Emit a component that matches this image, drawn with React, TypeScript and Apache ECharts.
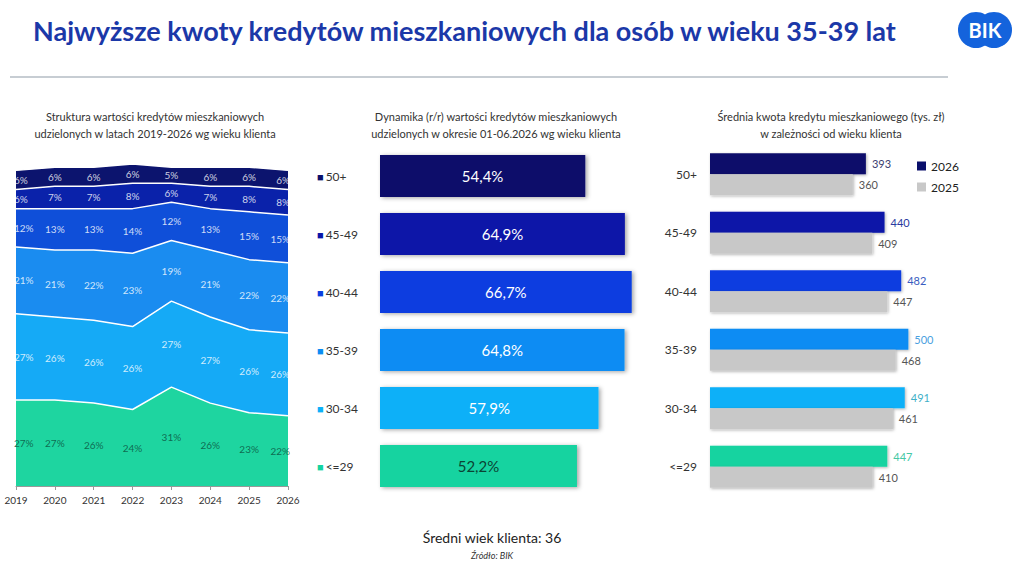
import React, { useEffect, useRef } from "react";
import * as echarts from "echarts";

const years = ["2019", "2020", "2021", "2022", "2023", "2024", "2025", "2026"];
const groups = ["<=29", "30-34", "35-39", "40-44", "45-49", "50+"];
const share29 = [27, 27, 26, 24, 31, 26, 23, 22];
const share3034 = [27, 26, 26, 26, 27, 27, 26, 26];
const share3539 = [21, 21, 22, 23, 19, 21, 22, 22];
const share4044 = [12, 13, 13, 14, 12, 13, 15, 15];
const share4549 = [6, 7, 7, 8, 6, 7, 8, 8];
const share50 = [6, 6, 6, 6, 5, 6, 6, 6];
const shares = [share29, share3034, share3539, share4044, share4549, share50];

const barCats = ["50+", "45-49", "40-44", "35-39", "30-34", "<=29"];
const dynamics = [54.4, 64.9, 66.7, 64.8, 57.9, 52.2];
const avg2026 = [393, 440, 482, 500, 491, 447];
const avg2025 = [360, 409, 447, 468, 461, 410];

// colors indexed like groups (<=29 .. 50+)
const groupColors = ["#14d3a0", "#0cb0f8", "#0b8cf3", "#0a3ee0", "#0815a8", "#0a0f6b"];
const areaColors = ["#1ed5a0", "#15aaf6", "#1a8cf0", "#0f4fd9", "#0a22aa", "#0c146e"];
// label colors indexed like barCats (50+ .. <=29)
const labelColors2026 = ["#3b4070", "#2a3aa0", "#3a5cc0", "#4a9fe0", "#3fb0c8", "#45c8a5"];

const FONT = "Lato, 'Open Sans', sans-serif";

function fmtPl(v: number) {
  return v.toFixed(1).replace(".", ",") + "%";
}

export default function App() {
  const ref = useRef<HTMLDivElement>(null);
  useEffect(() => {
    if (!ref.current) return;
    const chart = echarts.init(ref.current, undefined, { renderer: "svg" });

    const colorFor = (cat: string) => groupColors[groups.indexOf(cat)];

    const areaSeries: any[] = shares.map((arr, gi) => ({
      type: "line",
      name: groups[gi],
      xAxisIndex: 0,
      yAxisIndex: 0,
      stack: "share",
      data: arr,
      symbol: "none",
      lineStyle: { color: "#ffffff", width: 1.5 },
      areaStyle: { color: areaColors[gi], opacity: 1 },
      z: 2,
    }));

    const labelData: any[] = [];
    years.forEach((_, yi) => {
      let cum = 0;
      shares.forEach((arr, gi) => {
        const v = arr[yi];
        const edge =
          yi === 0
            ? { align: "left", offset: [-2, 0] }
            : yi === years.length - 1
            ? { align: "right", offset: [2, 0] }
            : {};
        labelData.push({
          value: [yi, cum + v / 2, v],
          label: { color: gi === 0 ? "#0b4f3c" : "#ffffff", ...edge },
        });
        cum += v;
      });
    });

    const richSq: any = {};
    barCats.forEach((c, i) => {
      richSq["s" + i] = { color: colorFor(c), fontSize: 11, padding: [0, 2, 0, 0] };
    });
    richSq.t = { color: "#333333", fontSize: 12, fontFamily: FONT };

    const option: any = {
      animation: false,
      backgroundColor: "#ffffff",
      textStyle: { fontFamily: FONT },
      title: [
        {
          text: "Najwyższe kwoty kredytów mieszkaniowych dla osób w wieku 35-39 lat",
          left: 28,
          top: 12,
          textStyle: { fontFamily: FONT, fontSize: 27, fontWeight: "bold", color: "#1b38a8" },
        },
        {
          text: "Struktura wartości kredytów mieszkaniowych\nudzielonych w latach 2019-2026 wg wieku klienta",
          left: 150,
          top: 103,
          textAlign: "center",
          textStyle: { fontFamily: FONT, fontSize: 11, fontWeight: "normal", color: "#333", lineHeight: 17 },
        },
        {
          text: "Dynamika (r/r) wartości kredytów mieszkaniowych\nudzielonych w okresie 01-06.2026 wg wieku klienta",
          left: 491,
          top: 103,
          textAlign: "center",
          textStyle: { fontFamily: FONT, fontSize: 11, fontWeight: "normal", color: "#333", lineHeight: 17 },
        },
        {
          text: "Średnia kwota kredytu mieszkaniowego (tys. zł)\nw zależności od wieku klienta",
          left: 826,
          top: 103,
          textAlign: "center",
          textStyle: { fontFamily: FONT, fontSize: 11, fontWeight: "normal", color: "#333", lineHeight: 17 },
        },
        {
          text: "Średni wiek klienta: 36",
          left: 487,
          top: 525,
          textAlign: "center",
          textStyle: { fontFamily: FONT, fontSize: 14, fontWeight: "normal", color: "#222" },
        },
        {
          text: "Źródło: BIK",
          left: 487,
          top: 546,
          textAlign: "center",
          textStyle: { fontFamily: FONT, fontSize: 9, fontStyle: "italic", fontWeight: "normal", color: "#333" },
        },
      ],
      graphic: [
        { type: "line", shape: { x1: 10, y1: 77, x2: 948, y2: 77 }, style: { stroke: "#b4bcc4", lineWidth: 1.5 } },
        { type: "circle", shape: { cx: 976, cy: 30, r: 18 }, style: { fill: "#1463dc" } },
        { type: "circle", shape: { cx: 994, cy: 30, r: 18 }, style: { fill: "#1463dc" } },
        {
          type: "text",
          x: 985,
          y: 30,
          style: {
            text: "BIK",
            fill: "#ffffff",
            font: "bold 20px " + FONT,
            textAlign: "center",
            textVerticalAlign: "middle",
          },
        },
      ],
      legend: {
        data: ["2026", "2025"],
        orient: "vertical",
        left: 912,
        top: 155,
        icon: "rect",
        itemWidth: 9,
        itemHeight: 9,
        itemGap: 9,
        textStyle: { fontFamily: FONT, fontSize: 12, color: "#222" },
      },
      grid: [
        { left: 16, right: 736, top: 164, bottom: 78 },
        { left: 380, right: 361, top: 147, bottom: 69 },
        { left: 710, right: 76, top: 145, bottom: 68 },
      ],
      xAxis: [
        {
          gridIndex: 0,
          type: "category",
          data: years,
          boundaryGap: false,
          axisLine: { lineStyle: { color: "#999" } },
          axisTick: { show: true, length: 4, lineStyle: { color: "#999" } },
          axisLabel: { fontFamily: FONT, fontSize: 10, color: "#333", margin: 9 },
          z: 5,
        },
        { gridIndex: 1, type: "value", min: 0, max: 75, show: false },
        { gridIndex: 2, type: "value", min: 0, max: 600, show: false },
      ],
      yAxis: [
        { gridIndex: 0, type: "value", min: 0, max: (v: any) => v.max, show: false },
        {
          gridIndex: 1,
          type: "category",
          data: barCats,
          inverse: true,
          axisLine: { show: false },
          axisTick: { show: false },
          axisLabel: {
            align: "left",
            margin: 63,
            formatter: (val: string, idx: number) => `{s${idx}|■}{t|${val}}`,
            rich: richSq,
          },
        },
        {
          gridIndex: 2,
          type: "category",
          data: barCats,
          inverse: true,
          axisLine: { show: false },
          axisTick: { show: false },
          axisLabel: { fontFamily: FONT, fontSize: 12, color: "#333", margin: 13 },
        },
      ],
      series: [
        ...areaSeries,
        {
          type: "scatter",
          xAxisIndex: 0,
          yAxisIndex: 0,
          data: labelData,
          symbolSize: 0,
          silent: true,
          clip: false,
          z: 6,
          label: {
            show: true,
            position: "inside",
            fontFamily: FONT,
            fontSize: 10,
            formatter: (p: any) => p.value[2] + "%",
          },
        },
        {
          type: "bar",
          name: "dyn",
          xAxisIndex: 1,
          yAxisIndex: 1,
          barCategoryGap: "28%",
          data: dynamics.map((v, i) => ({
            value: v,
            itemStyle: { color: colorFor(barCats[i]) },
            label: { color: barCats[i] === "<=29" ? "#0b4434" : "#ffffff" },
          })),
          itemStyle: {
            shadowColor: "rgba(0,0,0,0.35)",
            shadowBlur: 4,
            shadowOffsetX: 2,
            shadowOffsetY: 1,
          },
          label: {
            show: true,
            position: "inside",
            fontFamily: FONT,
            fontSize: 15,
            formatter: (p: any) => fmtPl(p.value),
          },
        },
        {
          type: "bar",
          name: "2026",
          xAxisIndex: 2,
          yAxisIndex: 2,
          barGap: "0%",
          barCategoryGap: "28%",
          itemStyle: {
            color: "#0a0f6b",
            shadowColor: "rgba(0,0,0,0.3)",
            shadowBlur: 3,
            shadowOffsetX: 1,
            shadowOffsetY: 1,
          },
          data: avg2026.map((v, i) => ({
            value: v,
            itemStyle: { color: colorFor(barCats[i]) },
            label: { color: labelColors2026[i] },
          })),
          label: { show: true, position: "right", distance: 6, fontFamily: FONT, fontSize: 11 },
        },
        {
          type: "bar",
          name: "2025",
          xAxisIndex: 2,
          yAxisIndex: 2,
          barGap: "0%",
          barCategoryGap: "28%",
          itemStyle: {
            color: "#c8c8c8",
            shadowColor: "rgba(0,0,0,0.3)",
            shadowBlur: 3,
            shadowOffsetX: 1,
            shadowOffsetY: 1,
          },
          data: avg2025,
          label: { show: true, position: "right", distance: 6, fontFamily: FONT, fontSize: 11, color: "#555" },
        },
      ],
    };
    chart.setOption(option);
    return () => chart.dispose();
  }, []);
  return (
    <div
      ref={ref}
      style={{ position: "fixed", left: 0, top: 0, width: 1024, height: 564, background: "#fff" }}
    />
  );
}
